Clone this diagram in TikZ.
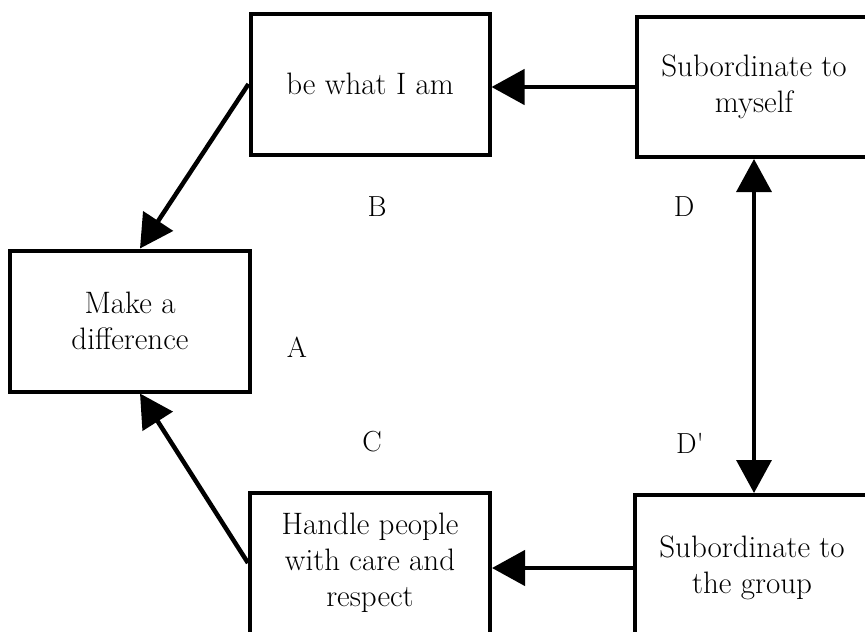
\documentclass[tikz,border=0pt]{standalone}
\usetikzlibrary{arrows.meta,positioning}

\begin{document}
\begin{tikzpicture}[
  x=1pt,y=-1pt,
  box/.style={draw,line width=4pt,minimum width=240pt,minimum height=141pt,
              align=center,inner sep=0pt,font=\fontsize{31}{36}\selectfont},
  tag/.style={font=\fontsize{29}{32}\selectfont},
  flow/.style={-{Triangle[length=33pt,width=35pt]},line width=4.5pt},
  link/.style={{Triangle[length=33pt,width=35pt]}-{Triangle[length=33pt,width=35pt]},line width=3.5pt}
]
  \useasboundingbox (0,0) rectangle (865,632);
  \clip (0,0) rectangle (865,632);

  % the five boxes
  \node[box] (diff) at (130,321) {Make a\\difference};
  \node[box,minimum width=239pt] (self) at (370,84) {be what I am};
  \node[box,minimum width=234pt,minimum height=140pt] (myself) at (754,87) {Subordinate to\\myself};
  \node[box] (care) at (370,563) {Handle people\\with care and\\respect};
  \node[box,minimum width=234pt,minimum height=146pt] (group) at (752,568) {Subordinate to\\the group};

  % letters between them
  \node[tag] (la) at (297,347) {A};
  \node[tag] (lb) at (377,207) {B};
  \node[tag] (lc) at (372,442) {C};
  \node[tag] (ld) at (684,207) {D};
  \node[tag] (ldd) at (690,443) {D\textquotesingle};

  \draw[flow] (myself.west) -- (myself.west -| self.east);
  \draw[flow] (group.west) -- (group.west -| care.east);
  \draw[flow] (self.west) -- ([xshift=10pt]diff.north);
  \draw[flow] (care.west) -- ([xshift=10pt]diff.south);
  \draw[link] (myself.south) -- (myself.south |- group.north);
\end{tikzpicture}
\end{document}
